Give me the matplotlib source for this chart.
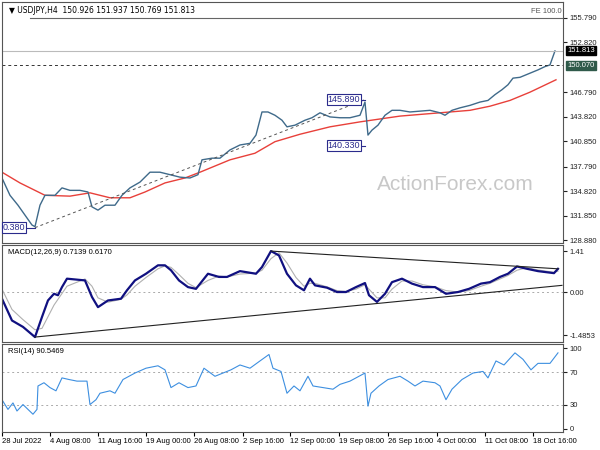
import matplotlib.pyplot as plt

plt.rcParams["font.family"] = ["Liberation Sans", "DejaVu Sans"]

# price chart (x = bar position, close values)
price_x = [2, 10, 18, 25, 32, 35, 40, 45, 55, 62, 70, 80, 88, 92, 98, 105, 115, 122, 130, 140,
           150, 160, 170, 180, 190, 198, 202, 212, 220, 230, 240, 250, 256, 262, 268, 275, 282,
           287, 295, 305, 312, 320, 330, 340, 350, 360, 365, 368, 372, 378, 385, 392, 400, 410,
           420, 430, 440, 445, 452, 460, 470, 480, 488, 495, 502, 508, 513, 520, 530, 538, 545,
           550, 555]
price = [136.4, 134.3, 133.1, 131.9, 130.7, 130.5, 133.1, 134.3, 134.3, 135.2, 134.9, 134.9,
         134.7, 132.9, 132.5, 133.1, 133.1, 134.3, 135.2, 135.9, 137.1, 137.1, 136.8, 136.5,
         136.4, 136.8, 138.6, 138.8, 138.8, 139.8, 140.4, 140.6, 141.6, 144.4, 144.4, 144.0,
         143.4, 142.6, 142.8, 143.4, 143.7, 144.3, 143.8, 143.7, 143.7, 144.0, 145.6, 141.6,
         142.2, 142.8, 144.0, 144.6, 144.6, 144.4, 144.5, 144.6, 144.3, 144.0, 144.6, 144.9,
         145.2, 145.6, 145.8, 146.5, 147.1, 147.7, 148.5, 148.6, 149.1, 149.5, 149.9, 150.1,
         151.8]
ma_x = [2, 20, 45, 70, 90, 110, 130, 145, 165, 185, 200, 230, 255, 275, 300, 330, 360, 400,
        440, 470, 490, 510, 530, 556]
ma = [137.1, 135.8, 134.3, 134.2, 134.6, 134.0, 134.0, 134.7, 135.8, 136.4, 137.1, 138.6,
      139.4, 140.8, 141.7, 142.6, 143.2, 143.9, 144.3, 144.6, 145.1, 145.8, 146.8, 148.3]
price_ticks = [155.790, 152.820, 146.790, 143.820, 140.850, 137.790, 134.820, 131.850, 128.880]

macd_x = [2, 12, 23, 35, 42, 48, 54, 58, 62, 67, 85, 92, 98, 108, 121, 127, 135, 146, 158,
          165, 171, 179, 188, 196, 208, 219, 227, 240, 256, 262, 271, 279, 287, 296, 304, 310,
          315, 327, 337, 346, 356, 365, 369, 377, 385, 392, 402, 412, 423, 435, 446, 458, 469,
          481, 490, 500, 508, 517, 527, 538, 554, 558]
macd = [-0.23, -0.98, -1.20, -1.55, -0.86, -0.29, -0.06, -0.11, 0.17, 0.46, 0.40, -0.17,
        -0.52, -0.29, -0.23, 0.06, 0.40, 0.63, 0.92, 0.92, 0.75, 0.40, 0.17, 0.11, 0.63, 0.52,
        0.52, 0.72, 0.63, 0.86, 1.41, 1.26, 0.63, 0.23, 0.06, 0.46, 0.23, 0.15, 0.00, 0.00,
        0.17, 0.31, -0.11, -0.34, -0.06, 0.34, 0.46, 0.29, 0.17, 0.17, -0.06, 0.00, 0.11, 0.29,
        0.34, 0.52, 0.63, 0.88, 0.80, 0.72, 0.65, 0.80]
signal = [0.10, -0.60, -0.95, -1.30, -1.25, -0.85, -0.45, -0.25, -0.05, 0.20, 0.45, 0.20,
          -0.20, -0.35, -0.25, -0.10, 0.20, 0.50, 0.80, 0.90, 0.85, 0.60, 0.30, 0.15, 0.40, 0.55,
          0.52, 0.62, 0.65, 0.75, 1.15, 1.35, 1.00, 0.50, 0.20, 0.30, 0.30, 0.18, 0.05, 0.02,
          0.10, 0.25, 0.10, -0.20, -0.20, 0.10, 0.38, 0.38, 0.25, 0.18, 0.05, 0.00, 0.05, 0.20,
          0.30, 0.45, 0.57, 0.75, 0.84, 0.76, 0.68, 0.72]
macd_up = ([271, 558], [1.41, 0.80])
macd_low = ([35, 562], [-1.55, 0.23])

rsi_x = [2, 8, 13, 17, 23, 33, 37, 38, 44, 50, 56, 62, 69, 77, 87, 90, 96, 100, 110, 115, 123,
         135, 146, 158, 165, 171, 179, 188, 196, 204, 215, 223, 231, 240, 250, 260, 269, 273,
         281, 287, 294, 300, 308, 313, 323, 333, 340, 350, 362, 365, 368, 371, 379, 388, 400,
         408, 415, 423, 435, 440, 446, 452, 462, 473, 483, 488, 496, 504, 515, 523, 531, 538,
         550, 558]
rsi = [36, 24, 32, 22, 30, 18, 24, 53, 57, 51, 47, 63, 61, 59, 59, 30, 36, 44, 47, 44, 61, 69,
       75, 78, 73, 51, 57, 51, 53, 75, 65, 69, 73, 79, 75, 84, 92, 75, 71, 44, 53, 47, 65, 53,
       51, 49, 55, 59, 67, 69, 28, 44, 53, 61, 65, 59, 53, 59, 57, 53, 36, 49, 61, 69, 71, 63,
       84, 79, 94, 86, 73, 81, 81, 94]

date_ticks = [2, 50, 98, 146, 194, 243, 290, 339, 388, 437, 485, 533]
date_labels = ["28 Jul 2022", "4 Aug 08:00", "11 Aug 16:00", "19 Aug 00:00", "26 Aug 08:00",
               "2 Sep 16:00", "12 Sep 00:00", "19 Sep 08:00", "26 Sep 16:00", "4 Oct 00:00",
               "11 Oct 08:00", "18 Oct 16:00"]

FS = 5.5
bar_col = "#3f6a8a"

fig = plt.figure(figsize=(6, 4.5), dpi=100)
ax1 = fig.add_axes([0.0033, 0.46, 0.935, 0.5356])
ax2 = fig.add_axes([0.0033, 0.24, 0.935, 0.2156])
ax3 = fig.add_axes([0.0033, 0.04, 0.935, 0.1956])

for ax in (ax1, ax2, ax3):
    ax.set_xlim(2, 563)
    ax.yaxis.tick_right()
    ax.tick_params(axis="y", labelsize=FS, length=3, pad=2, colors="#222222")
    ax.set_xticks([])
    for s in ax.spines.values():
        s.set_color("#555555")
        s.set_linewidth(0.8)

# main price panel
ax1.set_ylim(128.52, 157.73)
ax1.plot(ma_x, ma, color="#e8403a", lw=1)
ax1.plot(price_x, price, color=bar_col, lw=1)
ax1.axhline(155.79, xmin=0.05, color="#666666", lw=0.8)
ax1.axhline(151.813, color="#bbbbbb", lw=0.8)
ax1.axhline(150.07, color="#333333", lw=0.7, ls=(0, (3, 3)))
ax1.plot([35, 365], [130.38, 145.89], color="#555555", lw=0.7, ls=(0, (3, 3)))
ax1.plot([2, 35], [130.38, 130.38], color="#2b2b8c", lw=0.8)
ax1.plot([360, 365], [145.89, 145.89], color="#2b2b8c", lw=0.8)
ax1.plot([360, 365], [140.33, 140.33], color="#2b2b8c", lw=0.8)
ax1.set_yticks(price_ticks)
ax1.set_yticklabels([f"{t:.3f}" for t in price_ticks])
box = dict(boxstyle="square,pad=0.1", fc="white", ec="#2b2b8c", lw=0.8)
ax1.text(344, 145.89, "145.890", fontsize=FS + 1, color="#2b2b8c", ha="center", va="center", bbox=box)
ax1.text(344, 140.33, "140.330", fontsize=FS + 1, color="#2b2b8c", ha="center", va="center", bbox=box)
ax1.text(3, 130.38, "0.380", fontsize=FS + 1, color="#2b2b8c", ha="left", va="center", bbox=box)
ax1.text(562, 156.2, "FE 100.0", fontsize=FS, color="#555555", ha="right", va="bottom")
ax1.text(455, 135.6, "ActionForex.com", fontsize=15, color="#c8c8c8", ha="center", va="center")
ax1.text(0.012, 0.985, "\u25bc USDJPY,H4  150.926 151.937 150.769 151.813", transform=ax1.transAxes,
         fontsize=FS, ha="left", va="top", family=["DejaVu Sans"])
ax1.text(1.008, 151.813, "151.813", transform=ax1.get_yaxis_transform(), fontsize=FS, color="white",
         va="center", bbox=dict(boxstyle="square,pad=0.15", fc="black", ec="black"))
ax1.text(1.008, 150.07, "150.070", transform=ax1.get_yaxis_transform(), fontsize=FS, color="white",
         va="center", bbox=dict(boxstyle="square,pad=0.15", fc="#2f5a4a", ec="#2f5a4a"))

# MACD panel
ax2.set_ylim(-1.72, 1.62)
ax2.axhline(0, color="#aaaaaa", lw=0.7, ls=(0, (2, 3)))
ax2.plot(macd_x, signal, color="#b0b0b0", lw=0.8)
ax2.plot(macd_x, macd, color="#101080", lw=1.6)
ax2.plot(*macd_up, color="#222222", lw=0.8)
ax2.plot(*macd_low, color="#222222", lw=0.8)
ax2.set_yticks([1.41, 0.0, -1.4853])
ax2.set_yticklabels(["1.41", "0.00", "-1.4853"])
ax2.text(0.01, 0.96, "MACD(12,26,9) 0.7139 0.6170", transform=ax2.transAxes, fontsize=FS, va="top")

# RSI panel
ax3.set_ylim(-4, 105)
for lvl in (70, 30):
    ax3.axhline(lvl, color="#aaaaaa", lw=0.7, ls=(0, (2, 3)))
ax3.plot(rsi_x, rsi, color="#3d8fe0", lw=0.8)
ax3.set_yticks([100, 70, 30, 0])
ax3.text(0.01, 0.96, "RSI(14) 90.5469", transform=ax3.transAxes, fontsize=FS, va="top")
ax3.set_xticks(date_ticks)
ax3.set_xticklabels(date_labels, fontsize=FS, ha="left")
ax3.tick_params(axis="x", length=3, pad=1)

fig.savefig("out.png", dpi=100)
